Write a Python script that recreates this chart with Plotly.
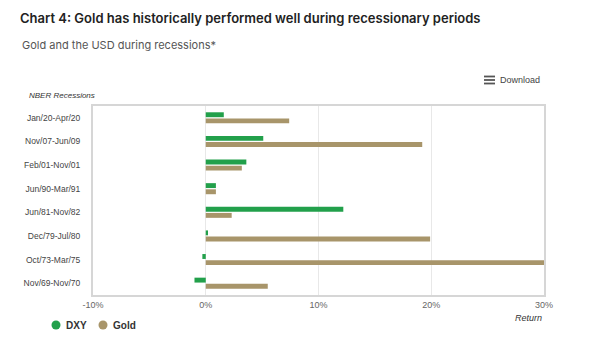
import plotly.graph_objects as go

categories = ["Jan/20-Apr/20", "Nov/07-Jun/09", "Feb/01-Nov/01", "Jun/90-Mar/91",
              "Jun/81-Nov/82", "Dec/79-Jul/80", "Oct/73-Mar/75", "Nov/69-Nov/70"]
dxy = [1.6, 5.1, 3.6, 0.9, 12.2, 0.2, -0.3, -1.0]
gold = [7.4, 19.2, 3.2, 0.9, 2.3, 19.9, 30.0, 5.5]
x_ticks = [-10, 0, 10, 20, 30]
x_tick_labels = ["-10%", "0%", "10%", "20%", "30%"]
series_names = ["DXY", "Gold"]

GREEN = "#22a04b"
GOLD = "#a8956a"

# plot area in pixels
L, R, T, B = 93, 544, 106, 295
PW, PH = R - L, B - T


def px(x):
    return (x - L) / PW


def py(y):
    return (B - y) / PH


fig = go.Figure()
fig.add_trace(go.Bar(name=series_names[0], y=categories, x=dxy, orientation="h",
                     marker=dict(color=GREEN, line=dict(width=0)), showlegend=False,
                     hovertemplate="%{y}: %{x:.1f}%<extra>DXY</extra>"))
fig.add_trace(go.Bar(name=series_names[1], y=categories, x=gold, orientation="h",
                     marker=dict(color=GOLD, line=dict(width=0)), showlegend=False,
                     hovertemplate="%{y}: %{x:.1f}%<extra>Gold</extra>"))

fig.update_layout(
    width=600, height=355,
    margin=dict(l=L, r=600 - R, t=T, b=355 - B),
    paper_bgcolor="white", plot_bgcolor="white",
    barmode="group", bargap=0.48, bargroupgap=0.2,
    font=dict(family="Arial, Liberation Sans, sans-serif", size=9, color="#555"),
    title=dict(text="Chart 4: Gold has historically performed well during recessionary periods",
               x=20 / 600, xanchor="left", y=1 - 18 / 355, yanchor="middle",
               font=dict(family="Inter, sans-serif", size=13, color="#222", weight=600)),
    showlegend=False,
    xaxis=dict(range=[-10, 30], tickvals=x_ticks, ticktext=x_tick_labels,
               showgrid=True, gridcolor="#e8e8e8", gridwidth=1,
               zeroline=True, zerolinecolor="#e8e8e8", zerolinewidth=1,
               showline=True, linecolor="#d6d6d6", linewidth=2, mirror=True,
               ticks="", tickfont=dict(size=9, color="#666"), fixedrange=True),
    yaxis=dict(autorange="reversed", showgrid=False, zeroline=False,
               showline=True, linecolor="#d6d6d6", linewidth=2, mirror=True,
               ticks="", ticklabelstandoff=9,
               tickfont=dict(size=8.5, color="#444"), fixedrange=True),
    hovermode="closest",
)

fig.add_annotation(text="Gold and the USD during recessions*", xref="paper", yref="paper",
                   x=px(20), y=py(45), xanchor="left", yanchor="middle",
                   showarrow=False, font=dict(family="Inter, sans-serif", size=11, color="#555"))
fig.add_annotation(text="<i>NBER Recessions</i>", xref="paper", yref="paper",
                   x=px(27), y=py(96), xanchor="left", yanchor="middle",
                   showarrow=False, font=dict(family="Arial, sans-serif", size=8, color="#333"))
fig.add_annotation(text="<i>Return</i>", xref="paper", yref="paper",
                   x=1.0, y=py(318), xanchor="right", yanchor="middle",
                   showarrow=False, font=dict(family="Arial, sans-serif", size=9, color="#333"))
fig.add_annotation(text="Download", xref="paper", yref="paper",
                   x=px(498), y=py(80), xanchor="left", yanchor="middle",
                   showarrow=False, font=dict(family="Arial, sans-serif", size=9, color="#444"))
# hamburger icon
for dy in (-3.5, 0, 3.5):
    fig.add_shape(type="line", xref="paper", yref="paper",
                  x0=px(484), x1=px(495), y0=py(80 + dy), y1=py(80 + dy),
                  line=dict(color="#555", width=1.8))

# legend (circle + bold label)
legend_items = [(series_names[0], GREEN, 56), (series_names[1], GOLD, 103)]
for name, col, cx in legend_items:
    fig.add_shape(type="circle", xref="paper", yref="paper",
                  xsizemode="pixel", ysizemode="pixel",
                  xanchor=px(cx), yanchor=py(325),
                  x0=-4.5, x1=4.5, y0=-4.5, y1=4.5,
                  fillcolor=col, line=dict(width=0))
    fig.add_annotation(text="<b>" + name + "</b>", xref="paper", yref="paper",
                       x=px(cx + 8), y=py(325), xanchor="left", yanchor="middle",
                       showarrow=False,
                       font=dict(family="Arial, sans-serif", size=10, color="#333"))

fig.write_html("out.html", config={"displayModeBar": False},
               post_script="document.body.style.margin='0';")
